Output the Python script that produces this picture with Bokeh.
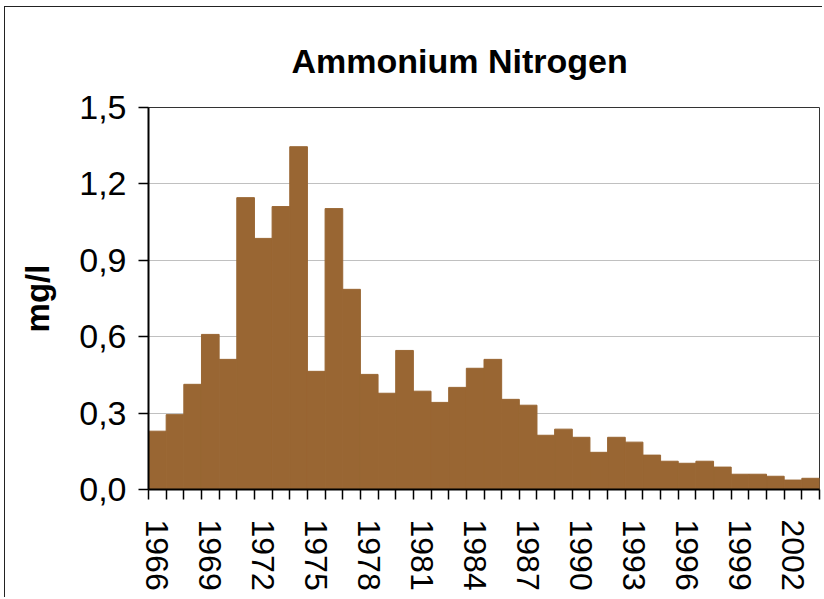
from bokeh.plotting import figure
from bokeh.models import FixedTicker, CustomJSTickFormatter, Range1d, ColumnDataSource
from bokeh.embed import file_html
from bokeh.resources import INLINE

years = list(range(1966, 2004))
values = [0.229, 0.294, 0.413, 0.609, 0.511, 1.146, 0.986, 1.111, 1.346, 0.464,
          1.103, 0.786, 0.452, 0.378, 0.546, 0.386, 0.342, 0.401, 0.476, 0.511,
          0.354, 0.331, 0.213, 0.237, 0.205, 0.146, 0.205, 0.186, 0.135, 0.111,
          0.103, 0.111, 0.088, 0.060, 0.060, 0.052, 0.037, 0.044]
label_years = [1966, 1969, 1972, 1975, 1978, 1981, 1984, 1987, 1990, 1993, 1996, 1999, 2002]
y_ticks = [0.0, 0.3, 0.6, 0.9, 1.2, 1.5]

src = ColumnDataSource(dict(year=years, value=values))

p = figure(width=818, height=591, output_backend="svg", toolbar_location=None,
           x_range=Range1d(years[0] - 0.5, years[-1] + 0.5), y_range=Range1d(0, 1.5),
           min_border_left=143, min_border_right=4, min_border_top=100, min_border_bottom=109)

p.vbar(x="year", top="value", width=1.0, source=src, fill_color="#996633",
       line_color="#996633", line_width=1)

p.title.text = "Ammonium Nitrogen"
p.title.text_font = "Liberation Sans"
p.title.text_font_size = "34px"
p.title.text_font_style = "bold"
p.title.text_color = "black"
p.title.align = "left"
p.title.offset = 143
p.title.standoff = 55

p.outline_line_color = "#333333"
p.outline_line_width = 1
p.background_fill_color = "white"
p.border_fill_color = "white"
p.styles = {"border-left": "1.5px solid #222", "border-top": "1.5px solid #222",
            "margin-left": "4px", "margin-top": "6px"}

# grid
p.xgrid.visible = False
p.ygrid.ticker = FixedTicker(ticks=y_ticks)
p.ygrid.grid_line_color = "#c0c0c0"
p.ygrid.grid_line_width = 1

# y axis
ya = p.yaxis[0]
ya.ticker = FixedTicker(ticks=y_ticks)
ya.formatter = CustomJSTickFormatter(code="return tick.toFixed(1).replace('.', ',');")
ya.major_label_text_font = "Liberation Sans"
ya.major_label_text_font_size = "34px"
ya.major_label_text_color = "black"
ya.major_label_standoff = 12
ya.major_tick_out = 10
ya.major_tick_in = 0
ya.minor_tick_out = 0
ya.minor_tick_in = 0
ya.major_tick_line_color = "black"
ya.major_tick_line_width = 1.5
ya.axis_line_color = "black"
ya.axis_line_width = 2
ya.axis_label = "mg/l"
ya.axis_label_text_font = "Liberation Sans"
ya.axis_label_text_font_size = "33px"
ya.axis_label_text_font_style = "bold"
ya.axis_label_text_color = "black"
ya.axis_label_standoff = 20

# x axis
xa = p.xaxis[0]
xa.ticker = FixedTicker(ticks=label_years, minor_ticks=[y - 0.5 for y in years] + [years[-1] + 0.5])
xa.major_label_orientation = "vertical"
xa.major_label_text_font = "Liberation Sans"
xa.major_label_text_font_size = "32px"
xa.major_label_text_color = "black"
xa.major_label_standoff = 20
xa.major_tick_out = 0
xa.major_tick_in = 0
xa.minor_tick_out = 10
xa.minor_tick_in = 0
xa.minor_tick_line_color = "black"
xa.minor_tick_line_width = 1.5
xa.axis_line_color = "black"
xa.axis_line_width = 2

open("out.html", "w").write(file_html(p, INLINE))
